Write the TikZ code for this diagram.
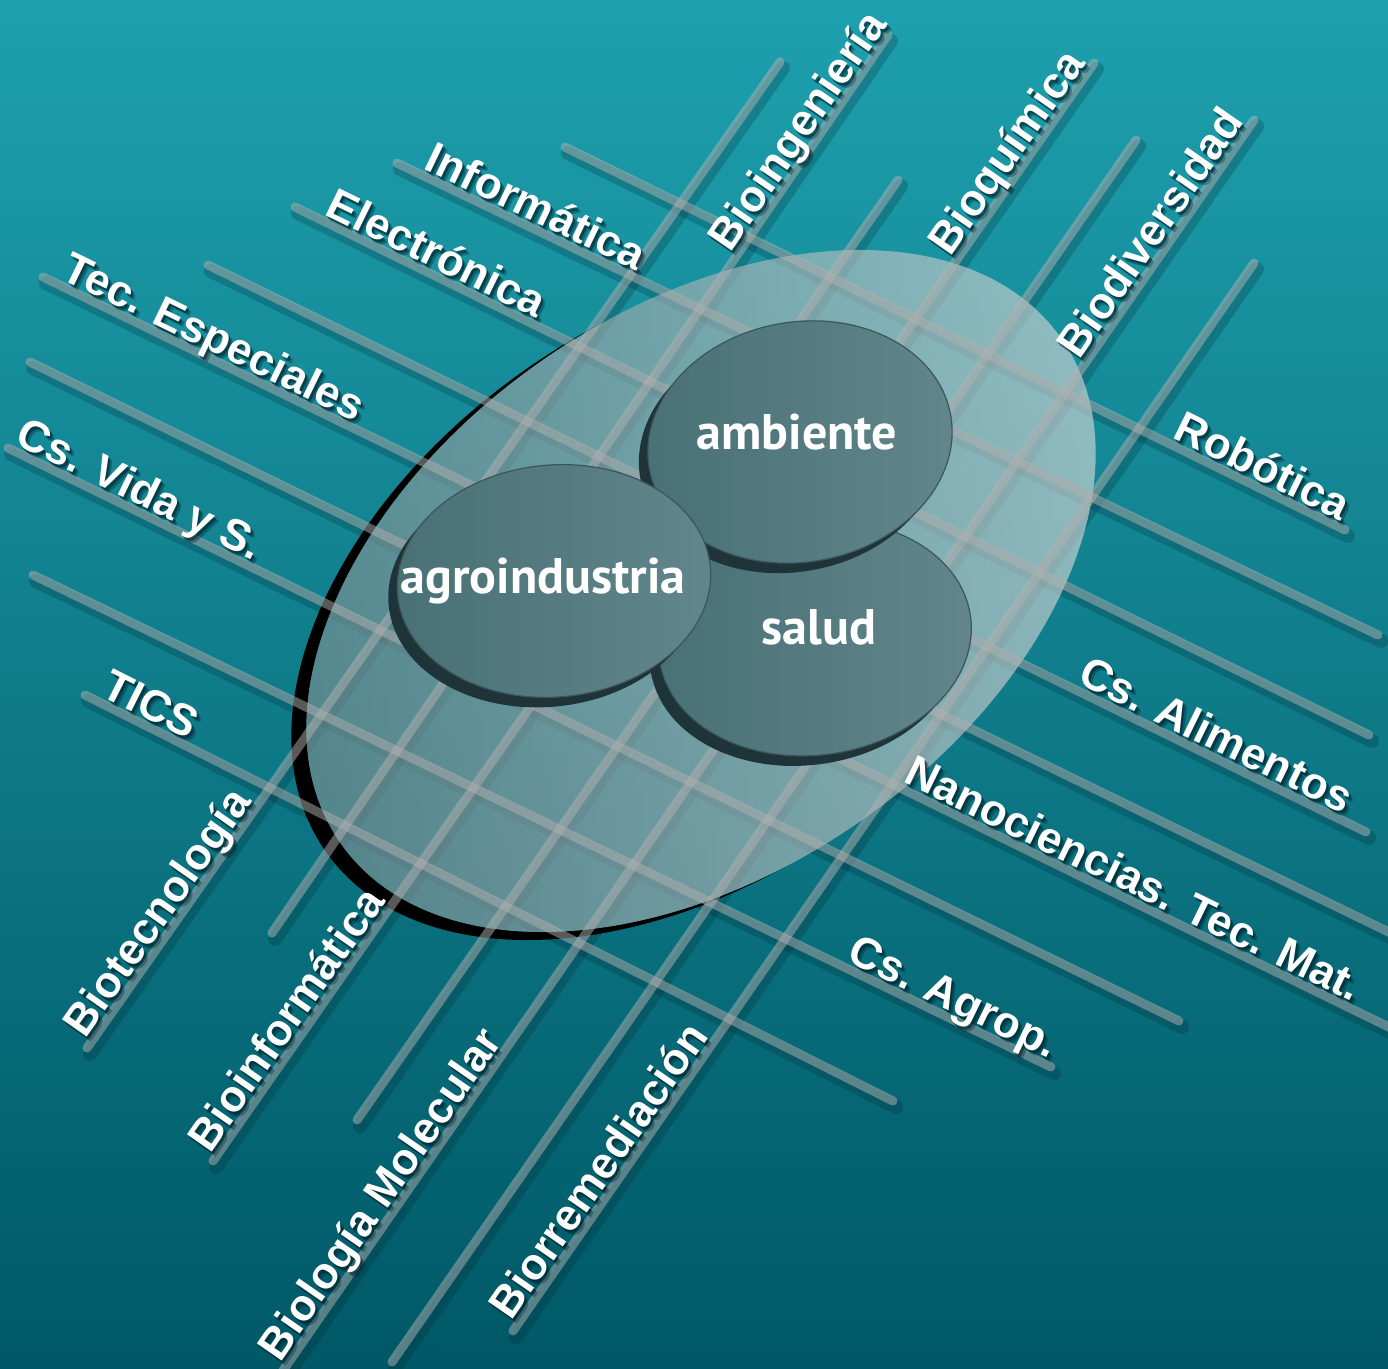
\documentclass[tikz,border=0pt]{standalone}
\usepackage{fontspec}
\newfontfamily\lblfont{Liberation Sans}
\newfontfamily\elfont{PT Sans}
\definecolor{bgtop}{RGB}{30,160,174}
\definecolor{bgmid}{RGB}{8,128,142}
\definecolor{bgbot}{RGB}{0,88,102}
\definecolor{linec}{RGB}{178,178,178}
\definecolor{shd}{RGB}{0,32,42}
\definecolor{ovl}{RGB}{125,138,140}
\definecolor{ovr}{RGB}{232,226,224}
\definecolor{dkl}{RGB}{72,112,117}
\definecolor{dkr}{RGB}{98,134,139}
\definecolor{dks}{RGB}{30,52,56}
\definecolor{dko}{RGB}{58,86,90}
\newcommand\lab[5]{%
  \path ([shift={(4,5)}]#1) -- node[lbl, text=shd, opacity=0.35, pos=#3] {#4} ([shift={(4,5)}]#2);
  \path ([shift={(2,3)}]#1) -- node[lbl, text=shd, opacity=0.55, pos=#3] {#4} ([shift={(2,3)}]#2);
  \path (#1) -- node[lbl, text=white, pos=#3] (#5) {#4} (#2);
}
\newcommand\blob[5]{%
  \fill[dks, rotate around={#5:(#1-9,#2+10)}] (#1-9,#2+10) ellipse [x radius=#3, y radius=#4];
  \shadedraw[left color=dkl, right color=dkr, draw=dko, line width=0.6pt, rotate around={#5:(#1,#2)}] (#1,#2) ellipse [x radius=#3, y radius=#4];
}
\begin{document}
\begin{tikzpicture}[x=0.5pt,y=-0.5pt,
  gridline/.style={line width=4.5pt, line cap=round, draw=linec, draw opacity=0.5},
  gshadow/.style={line width=7pt, line cap=round, draw=shd, draw opacity=0.22},
  lbl/.style={sloped, anchor=south west, inner xsep=0pt, inner ysep=3pt, text depth=0pt,
    font=\lblfont\bfseries\fontsize{22}{25}\selectfont},
  etext/.style={text=white, inner sep=0pt, anchor=base, font=\elfont\bfseries\fontsize{25}{29}\selectfont}]
\useasboundingbox (0,0) rectangle (1388,1369);
\clip (0,0) rectangle (1388,1369);
\shade[top color=bgtop, middle color=bgmid, bottom color=bgbot] (0,0) rectangle (1388,1369);

% line end points
\coordinate (a0) at (565,147);  \coordinate (a1) at (1345,530);
\coordinate (b0) at (397,163);  \coordinate (b1) at (1378,635);
\coordinate (c0) at (295,207);  \coordinate (c1) at (1369,735);
\coordinate (d0) at (208,265);  \coordinate (d1) at (1366,832);
\coordinate (e0) at (43,277);   \coordinate (e1) at (1405,940);
\coordinate (f0) at (30,362);   \coordinate (f1) at (1405,1035);
\coordinate (g0) at (8,448);    \coordinate (g1) at (1179,1021);
\coordinate (h0) at (33,575);   \coordinate (h1) at (1051,1067);
\coordinate (i0) at (85,695);   \coordinate (i1) at (893,1101);
\coordinate (p0) at (87,1048);  \coordinate (p1) at (780,62);
\coordinate (q0) at (272,933);  \coordinate (q1) at (888,35);
\coordinate (r0) at (213,1161); \coordinate (r1) at (898,180);
\coordinate (s0) at (357,1120); \coordinate (s1) at (1094,63);
\coordinate (t0) at (282,1372); \coordinate (t1) at (1136,140);
\coordinate (u0) at (392,1362); \coordinate (u1) at (1254,120);
\coordinate (v0) at (513,1331); \coordinate (v1) at (1254,263);

% line shadows
\foreach \s/\e in {a0/a1,b0/b1,c0/c1,d0/d1,e0/e1,f0/f1,g0/g1,h0/h1,i0/i1,p0/p1,q0/q1,r0/r1,s0/s1,t0/t1,u0/u1,v0/v1}
  \draw[gshadow] ([shift={(3,6)}]\s) -- ([shift={(3,6)}]\e);

% black shadow of the big ellipse
\begin{scope}
  \clip[rotate around={35:(686,599)}] (686,599) ellipse [x radius=440, y radius=280];
  \fill[black, even odd rule, rotate around={35:(701,591)}] (-900,-900) rectangle (2300,2300)
     (701,591) ellipse [x radius=440, y radius=280];
\end{scope}

% big translucent ellipse
\shade[rotate around={35:(701,591)}, left color=ovl, right color=ovr, fill opacity=0.6]
  (701,591) ellipse [x radius=440, y radius=280];

% grid lines
\foreach \s/\e in {a0/a1,b0/b1,c0/c1,d0/d1,e0/e1,f0/f1,g0/g1,h0/h1,i0/i1,p0/p1,q0/q1,r0/r1,s0/s1,t0/t1,u0/u1,v0/v1}
  \draw[gridline] (\s) -- (\e);

% labels
\lab{a0}{a1}{0.774}{Robótica}{la}
\lab{b0}{b1}{0.023}{Informática}{lb}
\lab{c0}{c1}{0.024}{Electrónica}{lc}
\lab{d0}{d1}{0.747}{Cs. Alimentos}{ld}
\lab{e0}{e1}{0.010}{Tec. Especiales}{le}
\lab{f0}{f1}{0.632}{Nanociencias. Tec. Mat.}{lf}
\lab{g0}{g1}{0.002}{Cs. Vida y S.}{lg}
\lab{h0}{h1}{0.795}{Cs. Agrop.}{lh}
\lab{i0}{i1}{0.014}{TICS}{li}
\lab{p0}{p1}{0.005}{Biotecnología}{lp}
\lab{q0}{q1}{0.752}{Bioingeniería}{lq}
\lab{r0}{r1}{0.003}{Bioinformática}{lr}
\lab{s0}{s1}{0.812}{Bioquímica}{ls}
\lab{t0}{t1}{0.004}{Biología Molecular}{lt}
\lab{u0}{u1}{0.803}{Biodiversidad}{lu}
\lab{v0}{v1}{0.005}{Biorremediación}{lv}

% dark ellipses
\blob{815}{638}{157}{117}{8}
\blob{800}{442}{153}{120}{10}
\blob{554}{581}{157}{116}{5}

\node[etext] (amb) at (797,450) {ambiente};
\node[etext] (sal) at (819,645) {salud};
\node[etext] (agr) at (543,594) {agroindustria};
\end{tikzpicture}
\end{document}
